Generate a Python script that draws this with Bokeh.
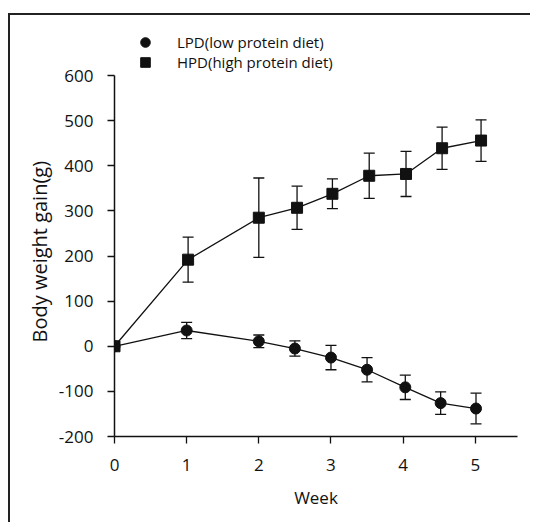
from bokeh.plotting import figure
from bokeh.models import (ColumnDataSource, Whisker, TeeHead, Legend, LegendItem,
                          Range1d, FixedTicker, Title)
from bokeh.embed import file_html
from bokeh.resources import INLINE

# Data
lpd_week = [0, 1, 2, 2.5, 3, 3.5, 4.03, 4.52, 5.01]
lpd_gain = [0, 35, 11, -5, -25, -52, -91, -126, -138]
lpd_err = [0, 18, 14, 17, 27, 27, 27, 25, 34]

hpd_week = [0, 1.02, 2, 2.53, 3.02, 3.53, 4.04, 4.54, 5.08]
hpd_gain = [0, 192, 285, 307, 338, 378, 382, 439, 456]
hpd_err = [0, 50, 88, 48, 33, 50, 50, 47, 46]

x_ticks = [0, 1, 2, 3, 4, 5]
y_ticks = [-200, -100, 0, 100, 200, 300, 400, 500, 600]

lpd_label = "LPD(low protein diet)"
hpd_label = "HPD(high protein diet)"
x_title = "Week"
y_title = "Body weight gain(g)"

FONT = "Open Sans"
INK = "#111111"

def make_source(x, y, e):
    return ColumnDataSource(dict(x=x, y=y,
                                 upper=[a + b for a, b in zip(y, e)],
                                 lower=[a - b for a, b in zip(y, e)]))

lpd = make_source(lpd_week, lpd_gain, lpd_err)
hpd = make_source(hpd_week, hpd_gain, hpd_err)

p = figure(width=522, height=509, output_backend="svg", toolbar_location=None,
           x_range=Range1d(0, 5.585), y_range=Range1d(-200, 700),
           min_border_left=104, min_border_right=15,
           min_border_top=15, min_border_bottom=88)
p.styles = {"border-top": "2px solid #222", "border-left": "2px solid #222",
            "margin-top": "13px", "margin-left": "8px"}
p.outline_line_color = None
p.xgrid.visible = False
p.ygrid.visible = False
p.background_fill_color = "white"
p.border_fill_color = "white"

for ax in (p.xaxis[0], p.yaxis[0]):
    ax.axis_line_width = 1.5
    ax.axis_line_color = INK
    ax.major_tick_line_color = INK
    ax.major_tick_line_width = 1.3
    ax.major_tick_in = 0
    ax.major_tick_out = 7
    ax.minor_tick_line_color = None
    ax.major_label_text_font = FONT
    ax.major_label_text_font_size = "17px"
    ax.major_label_text_color = INK
    ax.axis_label_text_font = FONT
    ax.axis_label_text_font_style = "normal"
    ax.axis_label_text_color = INK

p.xaxis.axis_label_text_font_size = "17px"
p.xaxis.ticker = FixedTicker(ticks=x_ticks)
p.yaxis.ticker = FixedTicker(ticks=y_ticks)
p.yaxis.major_label_overrides = {t: str(t) for t in y_ticks}
p.yaxis.bounds = (-200, 600)
p.xaxis.axis_label = x_title
p.xaxis.major_label_standoff = 15
p.yaxis.major_label_standoff = 14
p.xaxis.axis_label_standoff = 12

# y-axis title, centred on the axis line (-200..600) rather than the frame
ytitle = Title(text=y_title, align="left", offset=94, standoff=6,
               text_font=FONT, text_font_size="20px", text_font_style="normal",
               text_color=INK)
p.add_layout(ytitle, "left")

# lines
p.line("x", "y", source=lpd, line_color=INK, line_width=1.3)
p.line("x", "y", source=hpd, line_color=INK, line_width=1.3)

# error bars
for src in (lpd, hpd):
    w = Whisker(source=src, base="x", upper="upper", lower="lower",
                line_color=INK, line_width=1.3,
                upper_head=TeeHead(size=11, line_color=INK, line_width=1.3),
                lower_head=TeeHead(size=11, line_color=INK, line_width=1.3))
    p.add_layout(w)

r_lpd = p.scatter("x", "y", source=lpd, marker="circle", size=11,
                  fill_color=INK, line_color=INK)
r_hpd = p.scatter("x", "y", source=hpd, marker="square", size=11,
                  fill_color=INK, line_color=INK)

def make_legend(label, renderer, loc):
    lg = Legend(items=[LegendItem(label=label, renderers=[renderer])],
                location=loc, orientation="vertical")
    lg.label_text_font = FONT
    lg.label_text_font_size = "15px"
    lg.label_text_color = INK
    lg.glyph_width = 24
    lg.glyph_height = 24
    lg.label_height = 13
    lg.label_standoff = 20
    lg.padding = 0
    lg.margin = 0
    lg.border_line_color = None
    lg.background_fill_alpha = 0
    return lg

p.add_layout(make_legend(lpd_label, r_lpd, (19, 382)), "center")
p.add_layout(make_legend(hpd_label, r_hpd, (19, 362)), "center")

open("out.html", "w").write(file_html(p, INLINE))
